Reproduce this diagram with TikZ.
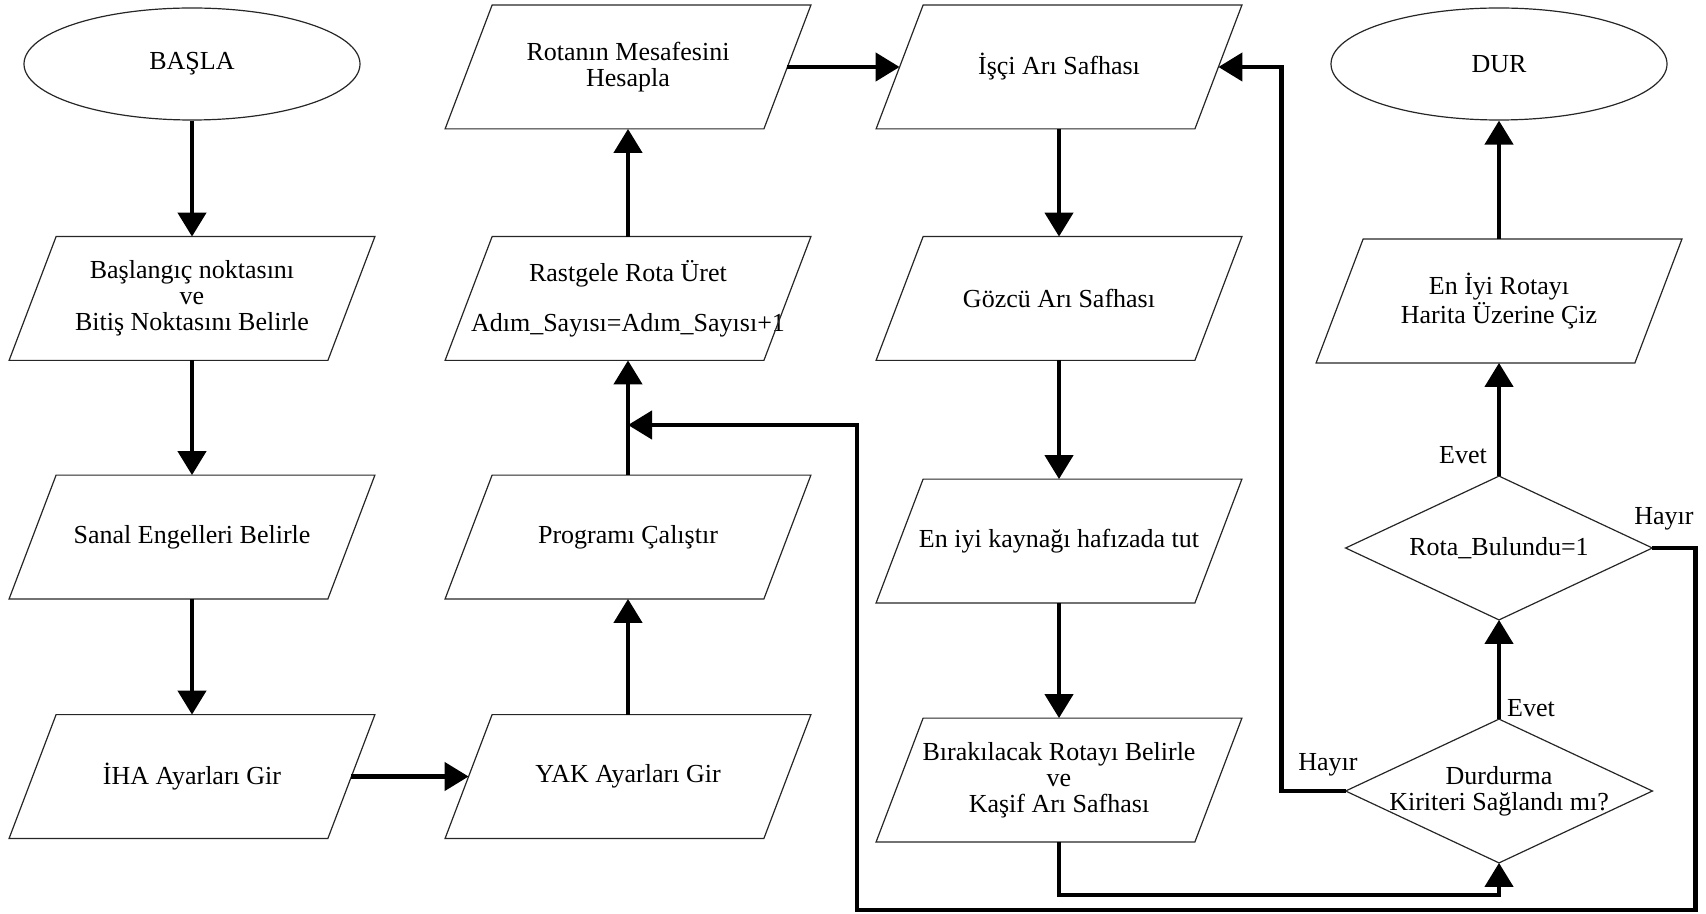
\documentclass[tikz,border=0pt]{standalone}
\usepackage{fontspec}
\setmainfont{Liberation Serif}
\usetikzlibrary{shapes.geometric, arrows.meta}

\begin{document}
\begin{tikzpicture}[x=0.5pt,y=-0.5pt,font=\fontsize{13}{13}\selectfont]
\tikzstyle{io}=[rectangle,minimum width=159pt,minimum height=61.5pt,inner sep=0pt,align=center]
\tikzstyle{test}=[rectangle,minimum width=153pt,minimum height=71.5pt,inner sep=0pt,align=center]
\tikzstyle{term}=[ellipse,draw=black!85,line width=0.6pt,minimum width=168pt,minimum height=56pt,inner sep=0pt]
\tikzstyle{rim}=[draw=black!85,line width=0.6pt]
\tikzstyle{flow}=[line width=2.2pt,-{Triangle[length=12pt,width=14pt]}]
\useasboundingbox (0,0) rectangle (1706,914);
\node[term] (S_0) at (192,64) {BAŞLA};
\node[io] (P_1) at (192,298.5) {Başlangıç noktasını\\ve\\Bitiş Noktasını Belirle};
\node[io] (P_2) at (192,537) {Sanal Engelleri Belirle};
\node[io] (P_3) at (192,776.5) {İHA Ayarları Gir};
\node[io] (P_4) at (628,776.5) {YAK Ayarları Gir};
\node[io] (P_5) at (628,537) {Programı Çalıştır};
\node[io] (P_6) at (628,298.5) {Rastgele Rota Üret\\[12pt]Adım\_Sayısı=Adım\_Sayısı+1};
\node[io] (P_7) at (628,67) {Rotanın Mesafesini\\Hesapla};
\node[io] (P_8) at (1059,67) {İşçi Arı Safhası};
\node[io] (P_9) at (1059,298.5) {Gözcü Arı Safhası};
\node[io] (P_10) at (1059,541) {En iyi kaynağı hafızada tut};
\node[io] (P_11) at (1059,780) {Bırakılacak Rotayı Belirle\\ve\\Kaşif Arı Safhası};
\node[test] (K_2) at (1499,791) {Durdurma\\Kiriteri Sağlandı mı?};
\node[test] (K_1) at (1499,548) {Rota\_Bulundu=1};
\node[io] (P_12) at (1499,301) {En İyi Rotayı\\Harita Üzerine Çiz};
\node[term] (E_0) at (1499,64) {DUR};
\node (L_1) at (1463,455) {Evet};
\node (L_2) at (1531,708) {Evet};
\node (L_3) at (1328,765) {Hayır};
\node (L_4) at (1664,519) {Hayır};
\coordinate (M_0) at (628,425);
\foreach \p in {P_1,P_2,P_3,P_4,P_5,P_6,P_7,P_8,P_9,P_10,P_11,P_12}
  \draw[rim] ([xshift=11.75pt]\p.north west) -- ([xshift=11.75pt]\p.north east) -- ([xshift=-11.75pt]\p.south east) -- ([xshift=-11.75pt]\p.south west) -- cycle;
\foreach \k in {K_1,K_2}
  \draw[rim] (\k.north) -- (\k.east) -- (\k.south) -- (\k.west) -- cycle;
\draw[flow] (S_0) -- (P_1);
\draw[flow] (P_1) -- (P_2);
\draw[flow] (P_2) -- (P_3);
\draw[flow] (P_3) -- (P_4);
\draw[flow] (P_4) -- (P_5);
\draw[flow] (P_5) -- (P_6);
\draw[flow] (P_6) -- (P_7);
\draw[flow] (P_7) -- (P_8);
\draw[flow] (P_8) -- (P_9);
\draw[flow] (P_9) -- (P_10);
\draw[flow] (P_10) -- (P_11);
\draw[flow] (P_11.south) -- ++(0,53) -| (K_2.south);
\draw[flow] (K_2.west) -- ++(-64,0) |- (P_8.east);
\draw[flow] (K_2) -- (K_1);
\draw[flow] (K_1) -- (P_12);
\draw[flow] (P_12) -- (E_0);
\draw[flow] (K_1.east) -- ++(43,0) |- (857,910) |- (M_0);
\end{tikzpicture}
\end{document}
